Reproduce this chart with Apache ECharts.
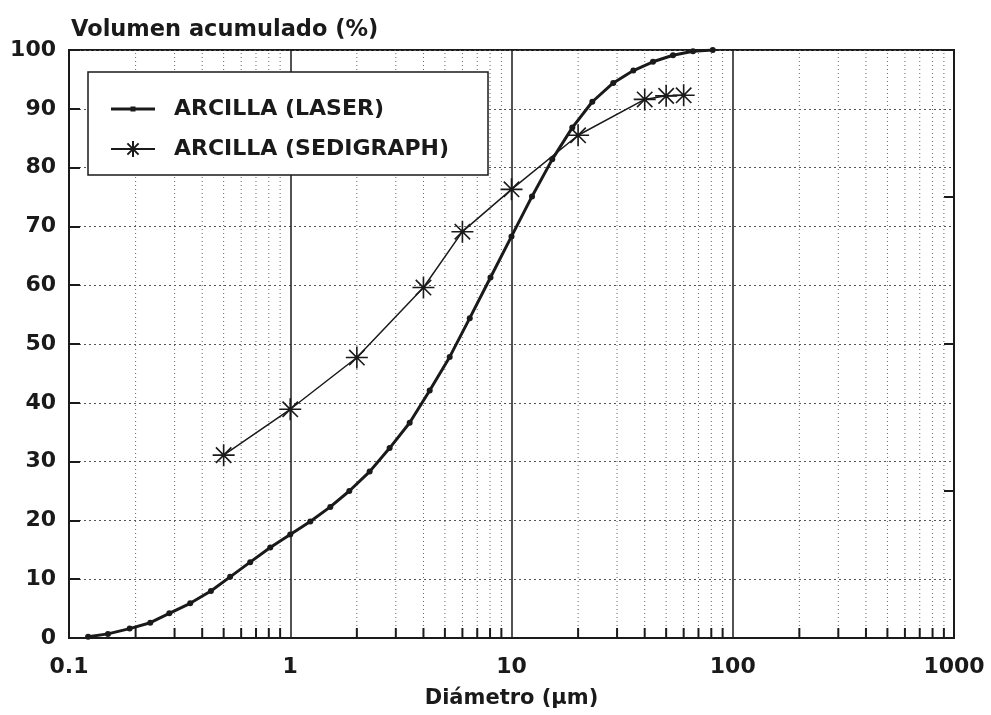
<!DOCTYPE html>
<html>
<head>
<meta charset="utf-8">
<script src="https://cdn.jsdelivr.net/npm/echarts@6/dist/echarts.min.js"></script>
<style>
html,body{margin:0;padding:0;background:#fff;}
#chart{width:991px;height:715px;}
</style>
</head>
<body>
<div id="chart"></div>
<script>
// ---- data ----
const seriesNames = ['ARCILLA (LASER)', 'ARCILLA (SEDIGRAPH)'];
const laserDiam = [0.122, 0.15, 0.188, 0.233, 0.284, 0.353, 0.438, 0.535, 0.659, 0.812,
  1.0, 1.232, 1.517, 1.849, 2.285, 2.813, 3.465, 4.268, 5.257, 6.475,
  8.035, 10.0, 12.38, 15.28, 18.83, 23.19, 28.84, 35.54, 43.6, 53.7, 66.1, 81.2];
const laserVol = [0.2, 0.7, 1.6, 2.6, 4.2, 5.9, 8.0, 10.4, 12.9, 15.4,
  17.6, 19.8, 22.3, 25.0, 28.3, 32.3, 36.6, 42.1, 47.8, 54.4,
  61.3, 68.3, 75.1, 81.4, 86.8, 91.2, 94.4, 96.5, 98.0, 99.1, 99.8, 100];
const sediDiam = [0.5, 1, 2, 4, 6, 10, 20, 40, 50, 60];
const sediVol = [31.1, 38.9, 47.7, 59.6, 69.1, 76.3, 85.5, 91.6, 92.2, 92.3];
const xTickLabels = ['0.1', '1', '10', '100', '1000'];
const minorGridValues = [0.2,0.3,0.4,0.5,0.6,0.7,0.8,0.9, 2,3,4,5,6,7,8,9,
  20,30,40,50,60,70,80,90, 200,300,400,500,600,700,800,900];

const FONT = '"DejaVu Sans", sans-serif';
const INK = '#1a1a1a';
const chart = echarts.init(document.getElementById('chart'), null, {renderer: 'canvas'});

const asterisk = 'path://M10 0 L10 20 M0 10 L20 10 M3 3 L17 17 M17 3 L3 17';
const laserLegendIcon = 'path://M0 8.6 L44 8.6 L44 11.4 L0 11.4 Z M19.5 7.5 L24.5 7.5 L24.5 12.5 L19.5 12.5 Z';

const option = {
  backgroundColor: '#fff',
  animation: false,
  title: {
    text: 'Volumen acumulado (%)',
    left: 66, top: 14,
    textStyle: {fontFamily: FONT, fontWeight: 'bold', fontSize: 22.5, color: INK}
  },
  grid: {left: 69, right: 37, top: 50, bottom: 77, show: true, borderColor: INK, borderWidth: 2, backgroundColor: 'transparent'},
  legend: {
    orient: 'vertical',
    left: 88, top: 72,
    data: [{name: seriesNames[0], icon: laserLegendIcon}, {name: seriesNames[1]}],
    itemWidth: 44, itemHeight: 20,
    itemGap: 18,
    padding: [26, 39, 15, 22],
    backgroundColor: '#fff',
    borderColor: INK, borderWidth: 1.5,
    textStyle: {fontFamily: FONT, fontWeight: 'bold', fontSize: 22, color: INK, padding: [0, 0, 0, 14]}
  },
  xAxis: {
    type: 'log', logBase: 10, min: 0.1, max: 1000,
    name: 'Diámetro (µm)', nameLocation: 'middle', nameGap: 50,
    nameTextStyle: {fontFamily: FONT, fontWeight: 'bold', fontSize: 21, color: INK},
    axisLine: {show: true, lineStyle: {color: INK, width: 2}},
    axisTick: {show: false},
    axisLabel: {
      margin: 18, fontFamily: FONT, fontWeight: 'bold', fontSize: 22, color: INK,
      formatter: function (v) {
        const idx = Math.round(Math.log10(v)) + 1;
        return xTickLabels[idx] !== undefined ? xTickLabels[idx] : String(v);
      }
    },
    splitLine: {show: true, lineStyle: {color: INK, width: 1.5, type: 'solid'}}
  },
  yAxis: [{
    type: 'value', min: 0, max: 100, interval: 10, position: 'left',
    axisLine: {show: true, lineStyle: {color: INK, width: 2}},
    axisTick: {show: true, inside: true, length: 11, lineStyle: {color: INK, width: 2}},
    axisLabel: {margin: 13, fontFamily: FONT, fontWeight: 'bold', fontSize: 22, color: INK},
    splitLine: {show: true, lineStyle: {color: '#555', width: 1, type: [2, 3]}}
  }, {
    type: 'value', min: 0, max: 100, interval: 25, position: 'right',
    axisLine: {show: true, lineStyle: {color: INK, width: 2}},
    axisTick: {show: true, inside: true, length: 10, lineStyle: {color: INK, width: 2}},
    axisLabel: {show: false},
    splitLine: {show: false}
  }],
  series: [{
    type: 'custom',
    name: 'minorGrid',
    silent: true,
    z: 1,
    data: minorGridValues.map(v => [v]),
    encode: {x: 0},
    renderItem: function (params, api) {
      const v = api.value(0);
      const pBottom = api.coord([v, 0]);
      const pTop = api.coord([v, 100]);
      return {
        type: 'group',
        children: [{
          type: 'line',
          shape: {x1: pBottom[0], y1: pBottom[1], x2: pTop[0], y2: pTop[1]},
          style: {stroke: '#666', lineWidth: 1, lineDash: [1, 3]}
        }, {
          type: 'line',
          shape: {x1: pBottom[0], y1: pBottom[1], x2: pBottom[0], y2: pBottom[1] - 10},
          style: {stroke: INK, lineWidth: 2}
        }]
      };
    }
  }, {
    type: 'line',
    name: seriesNames[0],
    data: laserDiam.map((d, i) => [d, laserVol[i]]),
    symbol: 'circle', symbolSize: 6,
    lineStyle: {color: INK, width: 3},
    itemStyle: {color: INK},
    z: 5
  }, {
    type: 'line',
    name: seriesNames[1],
    data: sediDiam.map((d, i) => [d, sediVol[i]]),
    symbol: asterisk, symbolSize: 22,
    lineStyle: {color: INK, width: 1.5},
    itemStyle: {color: 'none', borderColor: INK, borderWidth: 1.6},
    z: 5
  }]
};
chart.setOption(option);
</script>
</body>
</html>
